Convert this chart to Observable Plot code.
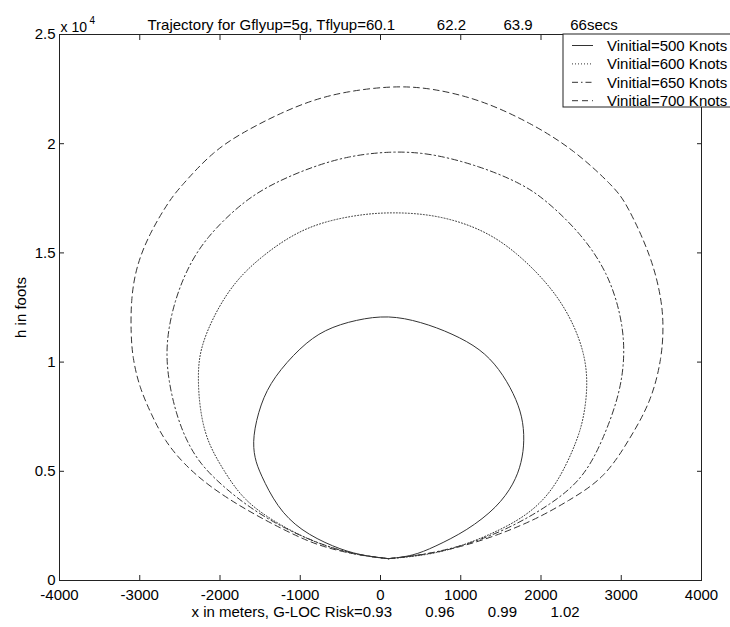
<!DOCTYPE html>
<html><head><meta charset="utf-8">
<script src="https://cdn.jsdelivr.net/npm/d3@7"></script>
<script src="https://cdn.jsdelivr.net/npm/@observablehq/plot@0.6"></script>
<style>
body{margin:0;background:#fff;}
#chart svg{display:block;}
</style></head><body><div id="chart"></div>
<script>
// ---- data ----
const seriesNames = ["Vinitial=500 Knots", "Vinitial=600 Knots", "Vinitial=650 Knots", "Vinitial=700 Knots"];

const x500 = [100, 400, 666, 1082, 1457, 1664, 1760, 1795, 1770, 1664, 1480, 1248, 900, 500, 100, -300, -700, -999, -1332, -1498, -1595, -1570, -1498, -1290, -999, -583, -250, 100];
const h500 = [1000, 1120, 1525, 2290, 3360, 4430, 5400, 6410, 7500, 8550, 9700, 10600, 11300, 11850, 12150, 11950, 11500, 10683, 9310, 8090, 6550, 5600, 4885, 3360, 2290, 1525, 1150, 1000];

const x600 = [100, 450, 874, 1498, 1914, 2206, 2455, 2545, 2590, 2505, 2215, 1680, 1248, 708, 150, -333, -960, -1505, -1840, -2090, -2255, -2276, -2255, -2170, -1956, -1706, -1290, -790, -300, 100];
const h600 = [1000, 1110, 1374, 2290, 3205, 4430, 6410, 7630, 9310, 10990, 13130, 15110, 16120, 16740, 16880, 16740, 16200, 14800, 13586, 12057, 10530, 9310, 7935, 6410, 5037, 3663, 2596, 1680, 1150, 1000];

const x650 = [100, 500, 1000, 1560, 2140, 2530, 2770, 2985, 3048, 3005, 2840, 2505, 2045, 1748, 1248, 624, 100, -416, -833, -1248, -1680, -2175, -2425, -2590, -2673, -2652, -2548, -2420, -2250, -1956, -1582, -1150, -680, -260, 100];
const h650 = [1000, 1150, 1550, 2290, 3512, 4700, 6410, 8550, 10380, 12057, 14045, 15875, 17475, 18190, 18960, 19580, 19660, 19420, 18960, 18340, 17475, 15720, 14195, 12514, 10840, 9310, 7630, 6410, 5342, 4272, 3205, 2290, 1560, 1150, 1000];

const x700 = [100, 666, 1290, 1914, 2350, 2790, 3095, 3380, 3506, 3526, 3506, 3381, 3069, 2913, 2413, 1873, 1248, 624, 150, -416, -833, -1248, -1664, -2081, -2497, -2632, -2881, -3048, -3110, -3110, -3090, -3006, -2840, -2690, -2455, -2122, -1664, -1190, -800, -350, 100];
const h700 = [1000, 1222, 1832, 2747, 3663, 4680, 6410, 8240, 10225, 11600, 12820, 14800, 17250, 18009, 19720, 20950, 22020, 22560, 22650, 22400, 22020, 21400, 20620, 19690, 18009, 17400, 15875, 14346, 12820, 11296, 10225, 8850, 7478, 6410, 5342, 4272, 3205, 2290, 1620, 1200, 1000];

const xTicks = [-4000, -3000, -2000, -1000, 0, 1000, 2000, 3000, 4000];
const yTicks = [0, 5000, 10000, 15000, 20000, 25000];

const NB = "\u00A0";
const titleText = "Trajectory for Gflyup=5g, Tflyup=60.1" + NB.repeat(10) + "62.2" + NB.repeat(9) + "63.9" + NB.repeat(9) + "66secs";
const xLabelText = "x in meters, G-LOC Risk=0.93" + NB.repeat(8) + "0.96" + NB.repeat(8) + "0.99" + NB.repeat(8) + "1.02";
const yLabelText = "h in foots";

// ---- styles ----
const FONT = "'Liberation Sans', Arial, Helvetica, sans-serif";
const INK = "#222";
const LINE = "#333";
const dashes = [null, "1 2", "6 3 1.5 3", "6 4"];

const rows = (xs, hs, s) => xs.map((x, i) => ({x, h: hs[i], s}));
const seriesData = [
  rows(x500, h500, seriesNames[0]),
  rows(x600, h600, seriesNames[1]),
  rows(x650, h650, seriesNames[2]),
  rows(x700, h700, seriesNames[3])
];

const W = 730, H = 627, mL = 59, mR = 29, mT = 34, mB = 47;

const lineMarks = seriesData.map((d, i) => Plot.line(d, {
  x: "x", y: "h", curve: "basis", stroke: LINE, strokeWidth: 1,
  strokeDasharray: dashes[i] || undefined
}));

const plot = Plot.plot({
  width: W, height: H,
  marginLeft: mL, marginRight: mR, marginTop: mT, marginBottom: mB,
  x: {domain: [-4000, 4000]},
  y: {domain: [0, 25000]},
  style: {fontFamily: FONT, fontSize: "15px", background: "#fff", color: "#000"},
  marks: [
    ...lineMarks,
    Plot.frame({stroke: INK}),
    Plot.axisX(xTicks, {anchor: "bottom", tickSize: 0, tickPadding: 9, label: null, fill: "#000", tickFormat: d => String(d)}),
    Plot.axisX(xTicks, {anchor: "bottom", tickSize: 5, dy: -5, fill: "none", stroke: INK}),
    Plot.axisX(xTicks, {anchor: "top", tickSize: 5, dy: 5, fill: "none", stroke: INK}),
    Plot.axisY(yTicks, {anchor: "left", tickSize: 0, tickPadding: 4, label: null, fill: "#000", tickFormat: d => String(d / 10000)}),
    Plot.axisY(yTicks, {anchor: "left", tickSize: 5, dx: 5, fill: "none", stroke: INK}),
    Plot.axisY(yTicks, {anchor: "right", tickSize: 5, dx: -5, fill: "none", stroke: INK}),
    Plot.text([titleText], {text: d => d, frameAnchor: "top-left", dx: 88, dy: -9, textAnchor: "start", lineAnchor: "middle", fontSize: 15, fill: "#000"}),
    Plot.text(["x 10"], {text: d => d, frameAnchor: "top-left", dx: 1, dy: -7, textAnchor: "start", lineAnchor: "middle", fontSize: 14, fill: "#000"}),
    Plot.text(["4"], {text: d => d, frameAnchor: "top-left", dx: 30, dy: -14, textAnchor: "start", lineAnchor: "middle", fontSize: 10, fill: "#000"}),
    Plot.text([xLabelText], {text: d => d, frameAnchor: "bottom-left", dx: 132, dy: 32, textAnchor: "start", lineAnchor: "middle", fontSize: 15, fill: "#000"}),
    Plot.text([yLabelText], {text: d => d, frameAnchor: "left", dx: -38, rotate: -90, textAnchor: "middle", lineAnchor: "middle", fontSize: 15, fill: "#000"})
  ]
});

document.getElementById("chart").appendChild(plot);

// ---- legend (boxed, top-right, overlapping the frame like the original) ----
const svg = d3.select(plot);
const lg = svg.append("g").attr("class", "legend").attr("text-anchor", "start");
const lgLeft = 563, lgTop = mT, lgBottom = 107, lgRight = 745;
lg.append("rect").attr("x", lgLeft).attr("y", lgTop).attr("width", lgRight - lgLeft).attr("height", lgBottom - lgTop)
  .attr("fill", "#fff").attr("stroke", INK).attr("stroke-width", 1);
seriesNames.forEach((name, i) => {
  const cy = 45.5 + i * 18.4;
  const ln = lg.append("line").attr("x1", 572).attr("x2", 593).attr("y1", cy).attr("y2", cy)
    .attr("stroke", LINE).attr("stroke-width", 1);
  if (dashes[i]) ln.attr("stroke-dasharray", dashes[i]);
  lg.append("text").attr("x", 607).attr("y", cy).attr("dy", "0.36em").attr("text-anchor", "start")
    .attr("font-family", FONT).attr("font-size", 15).attr("fill", "#000").text(name);
});
</script>
</body></html>
